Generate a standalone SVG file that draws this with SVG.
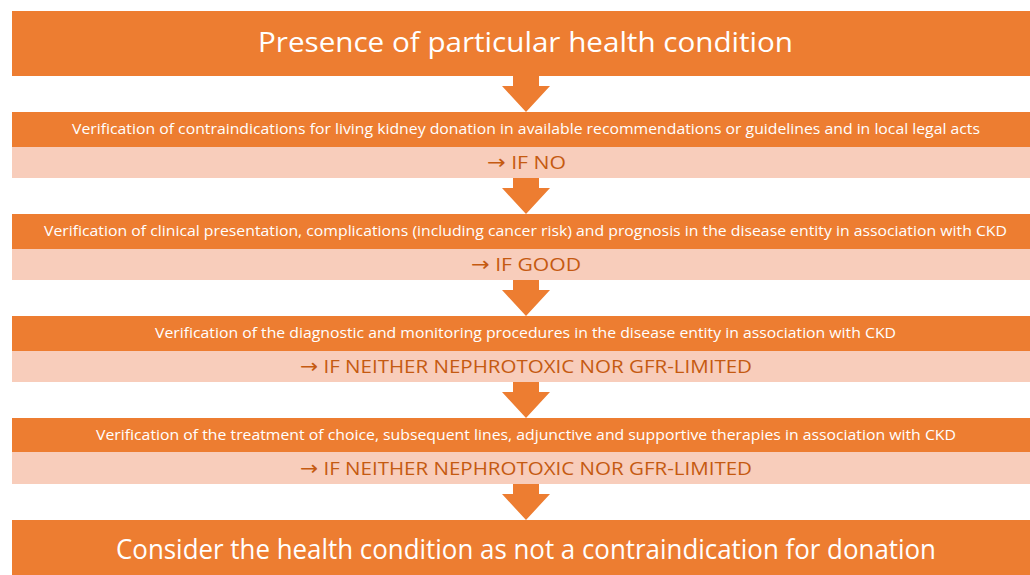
<svg xmlns="http://www.w3.org/2000/svg" width="1030" height="575" viewBox="0 0 1030 575">
<style>
.dark{fill:#ED7D31}
.light{fill:#F8CDBB}
.arrow{fill:#ED7D31}
text{font-family:"Open Sans","Noto Sans","Liberation Sans",sans-serif;text-anchor:middle}
.big{fill:#FFFFFF;font-size:28px}
.step{fill:#FFFFFF;font-size:14px}
.cond{fill:#C55A11;font-size:19px}
.ar{font-family:"DejaVu Sans",sans-serif;font-size:20px}
</style>
<rect width="1030" height="575" fill="#FFFFFF"/>
<g id="connectors">
<path class="arrow" d="M513 76 H539 V86 H550 L526 112 L502 86 H513 Z"/>
<path class="arrow" d="M513 178 H539 V188 H550 L526 214 L502 188 H513 Z"/>
<path class="arrow" d="M513 280 H539 V290 H550 L526 316 L502 290 H513 Z"/>
<path class="arrow" d="M513 382 H539 V392 H550 L526 418 L502 392 H513 Z"/>
<path class="arrow" d="M513 484 H539 V494 H550 L526 520 L502 494 H513 Z"/>
</g>
<g id="start">
<rect class="dark" x="12" y="11" width="1030" height="65"/>
<text class="big" x="525.5" y="52" textLength="535" lengthAdjust="spacingAndGlyphs">Presence of particular health condition</text>
</g>
<g id="step1">
<rect class="dark" x="12" y="112" width="1030" height="35"/>
<rect class="light" x="12" y="147" width="1030" height="31"/>
<text class="step" x="526" y="134" textLength="908" lengthAdjust="spacingAndGlyphs">Verification of contraindications for living kidney donation in available recommendations or guidelines and in local legal acts</text>
<text class="cond" x="526.5" y="169" textLength="79" lengthAdjust="spacingAndGlyphs"><tspan class="ar">→</tspan> IF NO</text>
</g>
<g id="step2">
<rect class="dark" x="12" y="214" width="1030" height="35"/>
<rect class="light" x="12" y="249" width="1030" height="31"/>
<text class="step" x="525.5" y="236" textLength="963" lengthAdjust="spacingAndGlyphs">Verification of clinical presentation, complications (including cancer risk) and prognosis in the disease entity in association with CKD</text>
<text class="cond" x="526" y="271" textLength="110" lengthAdjust="spacingAndGlyphs"><tspan class="ar">→</tspan> IF GOOD</text>
</g>
<g id="step3">
<rect class="dark" x="12" y="316" width="1030" height="35"/>
<rect class="light" x="12" y="351" width="1030" height="31"/>
<text class="step" x="525.5" y="338" textLength="741" lengthAdjust="spacingAndGlyphs">Verification of the diagnostic and monitoring procedures in the disease entity in association with CKD</text>
<text class="cond" x="526" y="373" textLength="452" lengthAdjust="spacingAndGlyphs"><tspan class="ar">→</tspan> IF NEITHER NEPHROTOXIC NOR GFR-LIMITED</text>
</g>
<g id="step4">
<rect class="dark" x="12" y="418" width="1030" height="34"/>
<rect class="light" x="12" y="452" width="1030" height="32"/>
<text class="step" x="526" y="440" textLength="860" lengthAdjust="spacingAndGlyphs">Verification of the treatment of choice, subsequent lines, adjunctive and supportive therapies in association with CKD</text>
<text class="cond" x="526" y="475" textLength="452" lengthAdjust="spacingAndGlyphs"><tspan class="ar">→</tspan> IF NEITHER NEPHROTOXIC NOR GFR-LIMITED</text>
</g>
<g id="end">
<rect class="dark" x="12" y="520" width="1030" height="60"/>
<text class="big" x="526" y="559" textLength="820" lengthAdjust="spacingAndGlyphs">Consider the health condition as not a contraindication for donation</text>
</g>
</svg>
